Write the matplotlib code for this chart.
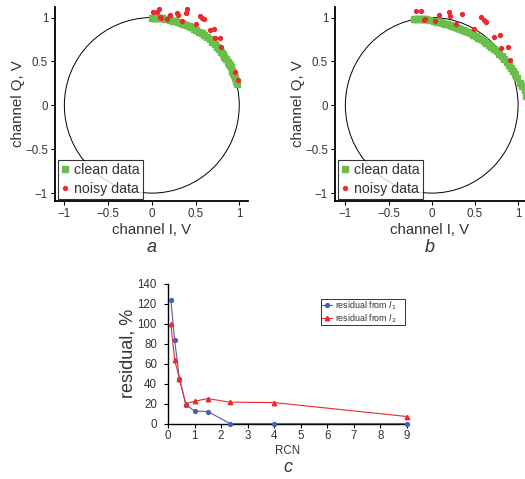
import matplotlib
matplotlib.use("Agg")
import matplotlib.pyplot as plt
from matplotlib.patches import Circle

# ---------------- data ----------------
# panel a
a_clean_I = [0.00, 0.02, 0.04, 0.06, 0.08, 0.10, 0.12, 0.15, 0.18, 0.21, 0.24, 0.27, 0.30,
             0.33, 0.36, 0.39, 0.42, 0.45, 0.48, 0.51, 0.54, 0.57, 0.60, 0.63, 0.66, 0.69,
             0.72, 0.75, 0.77, 0.79, 0.81, 0.83, 0.85, 0.87, 0.88, 0.89, 0.90, 0.92, 0.93,
             0.94, 0.95, 0.96, 0.97]
a_clean_Q = [1.00, 1.00, 0.999, 0.998, 0.997, 0.995, 0.99, 0.985, 0.98, 0.975, 0.965, 0.96, 0.95,
             0.94, 0.93, 0.92, 0.905, 0.89, 0.875, 0.86, 0.84, 0.82, 0.80, 0.775, 0.75, 0.72,
             0.695, 0.66, 0.64, 0.61, 0.585, 0.555, 0.525, 0.49, 0.47, 0.455, 0.435, 0.39, 0.365,
             0.34, 0.31, 0.28, 0.245]
a_noisy_I = [0.015, 0.061, 0.077, 0.092, 0.103, 0.169, 0.211, 0.291, 0.299, 0.345, 0.395, 0.406,
             0.506, 0.552, 0.575, 0.594, 0.667, 0.713, 0.724, 0.778, 0.793, 0.946, 0.985]
a_noisy_Q = [1.068, 1.068, 1.094, 1.004, 1.000, 0.985, 1.030, 1.057, 1.030, 0.958, 1.053, 1.094,
             0.928, 1.019, 0.992, 0.981, 0.853, 0.868, 0.762, 0.766, 0.664, 0.377, 0.294]

# panel b
b_clean_I = [-0.21, -0.19, -0.17, -0.15, -0.13, -0.11, -0.09, -0.07, -0.03, 0.03, 0.06, 0.09,
             0.12, 0.15, 0.18, 0.21, 0.24, 0.27, 0.30, 0.33, 0.36, 0.39, 0.42, 0.45, 0.48, 0.51,
             0.54, 0.57, 0.60, 0.63, 0.66, 0.69, 0.72, 0.75, 0.78, 0.81, 0.84, 0.87, 0.90, 0.92,
             0.94, 0.96, 0.99, 1.02, 1.05, 1.08, 1.09]
b_clean_Q = [0.98, 0.98, 0.98, 0.98, 0.98, 0.98, 0.98, 0.98, 0.975, 0.96, 0.952, 0.945,
             0.937, 0.93, 0.922, 0.913, 0.905, 0.895, 0.885, 0.875, 0.863, 0.85, 0.836, 0.82,
             0.805, 0.788, 0.77, 0.75, 0.73, 0.71, 0.69, 0.667, 0.643, 0.618, 0.59, 0.56, 0.53,
             0.495, 0.455, 0.425, 0.395, 0.36, 0.31, 0.255, 0.22, 0.18, 0.11]
b_noisy_I = [-0.185, -0.124, -0.077, -0.085, 0.039, 0.085, 0.200, 0.212, 0.282, 0.347, 0.490,
             0.568, 0.606, 0.629, 0.726, 0.792, 0.803, 0.884, 0.907]
b_noisy_Q = [1.075, 1.075, 0.985, 0.974, 0.962, 1.030, 1.064, 1.023, 0.928, 1.042, 0.875,
             1.011, 0.974, 0.947, 0.777, 0.796, 0.653, 0.660, 0.521]

# panel c
rcn = [0.11, 0.25, 0.43, 0.67, 1.0, 1.5, 2.33, 4.0, 9.0]
res_l1 = [123.5, 83.5, 45, 19, 12.5, 12, 0, 0, 0]
res_l2 = [99.5, 64, 45, 20, 22.3, 25, 21.4, 21, 7]

xticks_iq = [-1, -0.5, 0, 0.5, 1]
xticklabels_iq = ["\u22121", "\u22120.5", "0", "0.5", "1"]
yticks_iq = [-1, -0.5, 0, 0.5, 1]
yticklabels_iq = ["\u22121", "\u22120.5", "0", "0.5", "1"]

GREEN = "#6abf4b"
RED = "#ea2a2e"
BLUE = "#4a5fb3"
TXT = "#333333"

plt.rcParams['font.family'] = ['Liberation Sans', 'DejaVu Sans']

fig = plt.figure(figsize=(5.25, 4.79), dpi=100)


def iq_panel(rect, xlim, cI, cQ, nI, nQ, letter):
    ax = fig.add_axes(rect)
    ax.add_patch(Circle((0, 0), 1.0, fill=False, color="black", lw=0.7))
    ax.plot(cI, cQ, linestyle="none", marker="s", ms=3.7, color=GREEN,
            mec=GREEN, label="clean data")
    ax.plot(nI, nQ, linestyle="none", marker="o", ms=2.8, color=RED,
            mec=RED, label="noisy data")
    ax.set_xlim(*xlim)
    ax.set_ylim(-1.09, 1.12)
    ax.set_xticks(xticks_iq)
    ax.set_xticklabels(xticklabels_iq)
    ax.set_yticks(yticks_iq)
    ax.set_yticklabels(yticklabels_iq)
    for s in ("top", "right"):
        ax.spines[s].set_visible(False)
    for s in ("left", "bottom"):
        ax.spines[s].set_linewidth(1.3)
    ax.tick_params(direction="out", length=3, width=0.8, labelsize=8.3,
                   labelcolor=TXT, pad=2)
    ax.set_xlabel("channel I, V", fontsize=10.8, color=TXT, labelpad=2)
    ax.set_ylabel("channel Q, V", fontsize=10.8, color=TXT, labelpad=0)
    leg = ax.legend(loc="lower left", bbox_to_anchor=(0.015, 0.01), borderaxespad=0,
                    fontsize=10.2, frameon=True, fancybox=False, handlelength=0.45,
                    handletextpad=0.45, borderpad=0.25, labelspacing=0.3,
                    markerscale=1.0)
    leg.get_frame().set_edgecolor("black")
    leg.get_frame().set_linewidth(0.8)
    for t in leg.get_texts():
        t.set_color(TXT)
    ax.text(0.5, -0.24, letter, transform=ax.transAxes, ha="center", va="center",
            fontsize=13, style="italic", color=TXT)
    return ax


iq_panel([55 / 525, 1 - 201 / 479, 193 / 525, 194 / 479], (-1.107, 1.10),
         a_clean_I, a_clean_Q, a_noisy_I, a_noisy_Q, "a")
iq_panel([335 / 525, 1 - 201 / 479, 190 / 525, 194 / 479], (-1.12, 1.08),
         b_clean_I, b_clean_Q, b_noisy_I, b_noisy_Q, "b")

# panel c
axc = fig.add_axes([168 / 525, 1 - 423.5 / 479, 239 / 525, 139.5 / 479])
axc.plot(rcn, res_l1, color=BLUE, lw=0.8, marker="o", ms=2.8, mec=BLUE,
         label="residual from $\\mathit{l}_1$", clip_on=False, zorder=3)
axc.plot(rcn, res_l2, color=RED, lw=0.8, marker="^", ms=3.2, mec=RED,
         label="residual from $\\mathit{l}_2$", clip_on=False, zorder=3)
axc.set_xlim(0, 9)
axc.set_ylim(0, 140)
axc.set_xticks(range(0, 10))
axc.set_yticks(range(0, 141, 20))
for s in ("top", "right"):
    axc.spines[s].set_visible(False)
for s in ("left", "bottom"):
    axc.spines[s].set_linewidth(1.0)
axc.tick_params(axis="x", direction="out", length=3, width=0.8, labelsize=8.3,
                labelcolor=TXT, pad=2)
axc.tick_params(axis="y", direction="out", length=3, width=0.8, labelsize=8.3,
                labelcolor=TXT, pad=5)
axc.set_xlabel("RCN", fontsize=8.3, color=TXT, labelpad=2)
axc.set_ylabel("residual, %", fontsize=13, color=TXT, labelpad=1)
legc = axc.legend(loc="upper left", bbox_to_anchor=(0.641, 0.895, 0.351, 0.0),
                  mode="expand", borderaxespad=0,
                  fontsize=6.4, frameon=True, fancybox=False, handlelength=1.1,
                  handletextpad=0.35, borderpad=0.1, labelspacing=0.0)
legc.get_frame().set_edgecolor("black")
legc.get_frame().set_linewidth(0.7)
for t in legc.get_texts():
    t.set_color(TXT)
axc.text(0.5, -0.315, "c", transform=axc.transAxes, ha="center", va="center",
         fontsize=13, style="italic", color=TXT)

fig.savefig("out.png", dpi=100)
